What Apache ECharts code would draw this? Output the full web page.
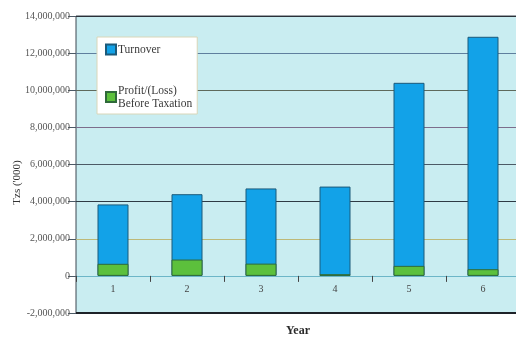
<!DOCTYPE html>
<html>
<head>
<meta charset="utf-8">
<script src="https://cdn.jsdelivr.net/npm/echarts@6/dist/echarts.min.js"></script>
<style>
  html, body { margin: 0; padding: 0; background: #fff; }
  #chart { width: 516px; height: 338px; }
</style>
</head>
<body>
<div id="chart"></div>
<script>
// values
const years = ['1', '2', '3', '4', '5', '6'];
const turnover = [3850000, 4400000, 4710000, 4810000, 10400000, 12880000];
const profit = [650000, 880000, 660000, 90000, 540000, 360000];
const yMin = -2000000;
const yMax = 14000000;
const yStep = 2000000;

const serif = 'Liberation Serif';
// gridline colours from bottom (-2M) to top (14M), scan has them all a bit different
const gridColors = ['#2a3038', '#6cb6c8', '#bdb978', '#2e3a44', '#4c5a66', '#7d6e8c', '#5e6a5c', '#5f7f9e', '#2a3038'];

const chart = echarts.init(document.getElementById('chart'));

chart.setOption({
  animation: false,
  backgroundColor: '#ffffff',
  grid: {
    left: 76,
    top: 16,
    width: 444,
    height: 297,
    show: true,
    backgroundColor: '#c9edf1',
    borderColor: '#3c4650',
    borderWidth: 1,
    containLabel: false,
    outerBoundsMode: 'none'
  },
  legend: {
    left: 97,
    top: 37,
    orient: 'vertical',
    selectedMode: false,
    backgroundColor: '#ffffff',
    borderColor: '#d9d6b8',
    borderWidth: 1,
    padding: [6, 5, 4, 8],
    itemGap: 28,
    itemWidth: 10,
    itemHeight: 10,
    icon: 'rect',
    textStyle: {
      fontFamily: serif,
      fontSize: 11.5,
      color: '#3a3a3a',
      lineHeight: 13,
      padding: [0, 0, 0, -3]
    },
    data: ['Turnover', 'Profit/(Loss)\nBefore Taxation']
  },
  xAxis: {
    type: 'category',
    data: years,
    name: 'Year',
    nameLocation: 'middle',
    nameGap: 12,
    nameMoveOverlap: false,
    nameTextStyle: { fontFamily: serif, fontSize: 12, fontWeight: 'bold', color: '#2a2a2a' },
    axisLine: { onZero: true, lineStyle: { color: '#6cb6c8', width: 1 } },
    axisTick: { show: true, inside: false, length: 6, lineStyle: { color: '#444' } },
    // labels get laid out from the grid bottom in v6, pull them up under the zero line
    axisLabel: { fontFamily: serif, fontSize: 10, color: '#444', margin: -29 },
    splitLine: { show: false }
  },
  yAxis: {
    type: 'value',
    min: yMin,
    max: yMax,
    interval: yStep,
    name: "Tzs ('000)",
    nameLocation: 'middle',
    nameGap: 53,
    nameRotate: 90,
    nameMoveOverlap: false,
    nameTextStyle: { fontFamily: serif, fontSize: 11, color: '#333', padding: [0, 36, 0, 0] },
    axisLine: { show: false },
    axisTick: { show: true, length: 8, lineStyle: { color: '#4c5a66' } },
    axisLabel: {
      fontFamily: serif,
      fontSize: 10,
      color: '#555',
      margin: 6,
      formatter: v => v.toLocaleString('en-US')
    },
    splitLine: { show: true, lineStyle: { color: gridColors, width: 1 } }
  },
  series: [
    {
      name: 'Turnover',
      type: 'bar',
      data: turnover,
      barWidth: 31,
      itemStyle: { color: '#12a2e8', borderColor: '#1b5a7a', borderWidth: 1 },
      // darker bottom edge of the plot at the axis minimum
      markLine: {
        silent: true,
        symbol: 'none',
        label: { show: false },
        lineStyle: { color: '#1e2228', width: 2, type: 'solid' },
        data: [{ yAxis: yMin }]
      }
    },
    {
      name: 'Profit/(Loss)\nBefore Taxation',
      type: 'bar',
      data: profit,
      barWidth: 31,
      barGap: '-100%',
      itemStyle: { color: '#5cc03c', borderColor: '#2f6a3a', borderWidth: 1 }
    }
  ]
});
</script>
</body>
</html>
